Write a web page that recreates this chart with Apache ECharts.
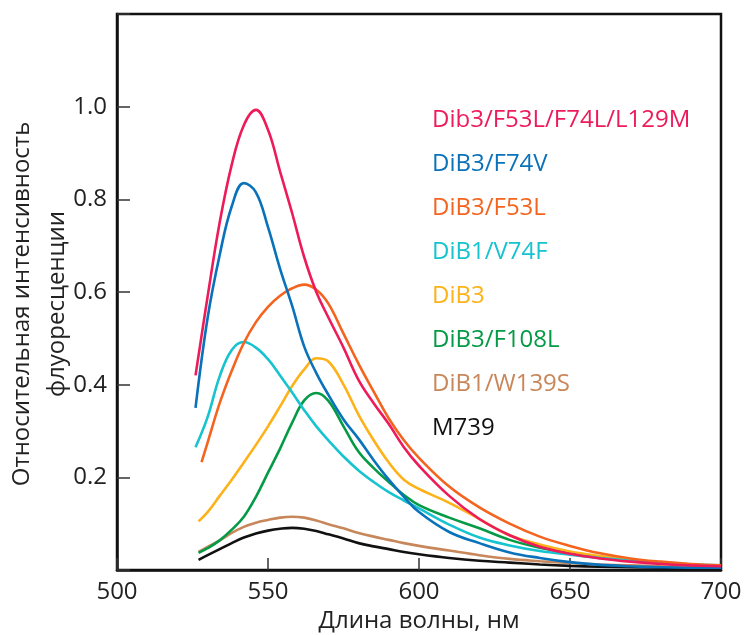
<!DOCTYPE html>
<html>
<head>
<meta charset="utf-8">
<script src="https://cdn.jsdelivr.net/npm/echarts@6/dist/echarts.min.js"></script>
<style>
html,body{margin:0;padding:0;background:#fff;}
#chart{width:745px;height:635px;}
</style>
</head>
<body>
<div id="chart"></div>
<script>
const wavelengths = [526, 527, 528, 530, 534, 538, 542, 546, 550, 554, 558, 562, 566, 570, 575, 580, 585, 590, 595, 600, 610, 620, 630, 640, 650, 660, 670, 680, 690, 700];

const seriesNames = ['Dib3/F53L/F74L/L129M', 'DiB3/F74V', 'DiB3/F53L', 'DiB1/V74F', 'DiB3', 'DiB3/F108L', 'DiB1/W139S', 'M739'];
const seriesColors = ['#EE1B5B', '#0A72BA', '#F4641F', '#17C3CF', '#FDB21A', '#059A45', '#C8875A', '#111111'];

const pinkValues   = [0.42, null, null, 0.59, 0.75, 0.875, 0.96, 0.993, 0.95, 0.86, 0.77, 0.675, 0.60, 0.545, 0.48, 0.41, 0.36, 0.315, 0.265, 0.225, 0.16, 0.11, 0.075, 0.05, 0.035, 0.025, 0.018, 0.013, 0.01, 0.008];
const blueValues   = [0.35, null, null, 0.544, 0.68, 0.785, 0.835, 0.815, 0.74, 0.65, 0.57, 0.482, 0.425, 0.378, 0.325, 0.283, 0.237, 0.195, 0.158, 0.125, 0.082, 0.058, 0.038, 0.026, 0.017, 0.011, 0.008, 0.006, 0.005, 0.005];
const orangeValues = [null, null, 0.233, 0.275, 0.36, 0.43, 0.49, 0.535, 0.568, 0.592, 0.608, 0.616, 0.605, 0.575, 0.51, 0.445, 0.385, 0.327, 0.28, 0.242, 0.18, 0.135, 0.10, 0.072, 0.052, 0.036, 0.025, 0.018, 0.013, 0.01];
const cyanValues   = [0.265, null, null, 0.33, 0.418, 0.475, 0.492, 0.48, 0.455, 0.42, 0.383, 0.345, 0.31, 0.28, 0.245, 0.215, 0.19, 0.168, 0.15, 0.133, 0.098, 0.07, 0.053, 0.041, 0.033, 0.026, 0.02, 0.015, 0.012, 0.01];
const yellowValues = [null, 0.105, null, 0.125, 0.16, 0.195, 0.232, 0.27, 0.31, 0.353, 0.397, 0.433, 0.457, 0.45, 0.40, 0.335, 0.28, 0.232, 0.195, 0.175, 0.145, 0.11, 0.075, 0.055, 0.04, 0.03, 0.022, 0.016, 0.012, 0.008];
const greenValues  = [null, 0.037, null, 0.047, 0.064, 0.087, 0.115, 0.158, 0.21, 0.262, 0.318, 0.366, 0.382, 0.365, 0.31, 0.255, 0.22, 0.19, 0.162, 0.14, 0.113, 0.09, 0.065, 0.048, 0.037, 0.028, 0.02, 0.015, 0.011, 0.008];
const brownValues  = [null, 0.039, null, 0.05, 0.064, 0.08, 0.093, 0.102, 0.108, 0.113, 0.115, 0.113, 0.107, 0.099, 0.09, 0.08, 0.072, 0.065, 0.058, 0.052, 0.042, 0.032, 0.024, 0.019, 0.015, 0.012, 0.01, 0.008, 0.007, 0.006];
const blackValues  = [null, 0.022, null, 0.032, 0.045, 0.058, 0.07, 0.079, 0.085, 0.089, 0.091, 0.089, 0.084, 0.077, 0.068, 0.058, 0.051, 0.045, 0.039, 0.034, 0.026, 0.02, 0.016, 0.012, 0.009, 0.007, 0.006, 0.005, 0.004, 0.003];

const xTicks = [500, 550, 600, 650, 700];
const yTickLabels = ['0.2', '0.4', '0.6', '0.8', '1.0'];

const xAxisTitle = 'Длина волны, нм';
const yAxisTitle = 'Относительная интенсивность\nфлуоресценции';

const allValues = [pinkValues, blueValues, orangeValues, cyanValues, yellowValues, greenValues, brownValues, blackValues];

const FONT = 'Open Sans';
const FS = 24;

const chart = echarts.init(document.getElementById('chart'), null, {renderer: 'canvas'});

const series = seriesNames.map((name, i) => ({
  name: name,
  type: 'line',
  smooth: 0.4,
  showSymbol: false,
  symbol: 'none',
  lineStyle: {color: seriesColors[i], width: 2.6},
  itemStyle: {color: seriesColors[i]},
  z: 10 - i,
  data: wavelengths.map((w, k) => allValues[i][k] == null ? null : [w, allValues[i][k]]).filter(d => d !== null)
}));

const option = {
  backgroundColor: '#ffffff',
  animation: false,
  grid: {
    left: 117, right: 24, top: 14, bottom: 65,
    show: true, borderColor: '#111', borderWidth: 2.5,
    containLabel: false, outerBoundsMode: 'none'
  },
  graphic: [{
    type: 'text',
    x: 40,
    y: 304,
    rotation: Math.PI / 2,
    style: {
      text: yAxisTitle,
      font: FS + 'px "' + FONT + '"',
      fill: '#222',
      align: 'center',
      verticalAlign: 'middle',
      lineHeight: 35
    }
  }],
  legend: {
    orient: 'vertical',
    left: 422,
    top: 103,
    itemWidth: 0,
    itemHeight: 0,
    itemGap: 20,
    icon: 'none',
    selectedMode: false,
    textStyle: {fontFamily: FONT, fontSize: FS, lineHeight: 24},
    data: seriesNames.map((n, i) => ({name: n, textStyle: {color: seriesColors[i]}}))
  },
  xAxis: {
    type: 'value',
    min: xTicks[0],
    max: xTicks[xTicks.length - 1],
    interval: 50,
    name: xAxisTitle,
    nameLocation: 'middle',
    nameGap: 38,
    nameTextStyle: {fontFamily: FONT, fontSize: FS, color: '#222'},
    axisLine: {show: true, lineStyle: {color: '#111', width: 2.5}},
    axisTick: {show: true, inside: true, length: 12, lineStyle: {color: '#333', width: 1.5}},
    axisLabel: {
      fontFamily: FONT, fontSize: FS, color: '#222', margin: 10,
      formatter: v => xTicks.indexOf(v) >= 0 ? String(v) : ''
    },
    splitLine: {show: false}
  },
  yAxis: {
    type: 'value',
    min: 0,
    max: 1.2,
    interval: 0.2,
    axisLine: {show: true, lineStyle: {color: '#111', width: 2.5}},
    axisTick: {show: true, inside: true, length: 13, lineStyle: {color: '#333', width: 1.5}},
    axisLabel: {
      fontFamily: FONT, fontSize: FS, color: '#222', margin: 10,
      formatter: v => {
        const s = v.toFixed(1);
        return yTickLabels.indexOf(s) >= 0 ? s : '';
      }
    },
    splitLine: {show: false}
  },
  series: series
};

chart.setOption(option);
</script>
</body>
</html>
